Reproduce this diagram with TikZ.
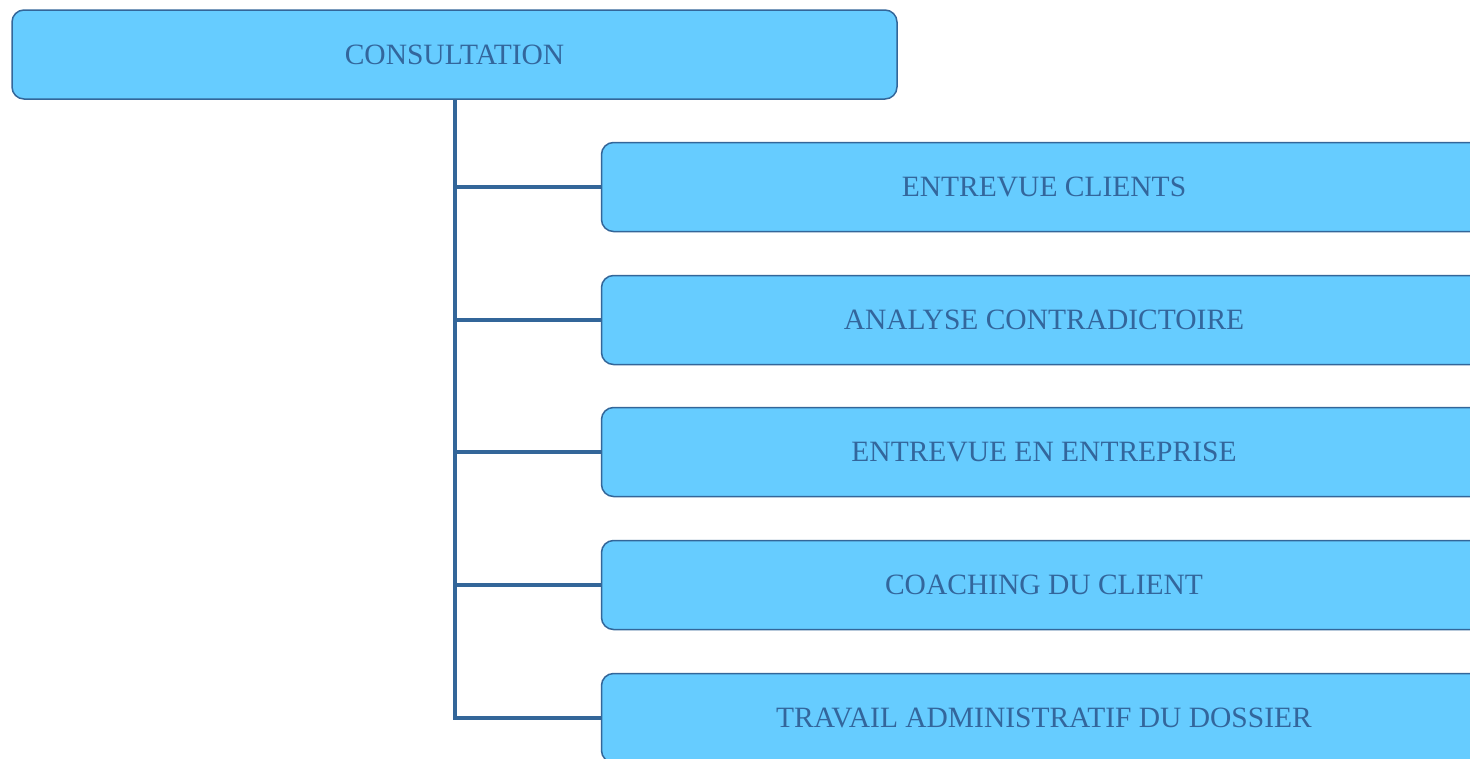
\documentclass[tikz,border=0pt]{standalone}
\usepackage{fontspec}
\setmainfont{Liberation Serif}
\usetikzlibrary{positioning}

\definecolor{boxfill}{HTML}{66CCFF}
\definecolor{boxline}{HTML}{336699}
\definecolor{boxtext}{HTML}{33669C}

\tikzset{
	task/.style={draw=boxline, fill=boxfill, line width=1.5pt, rounded corners=12pt,
		minimum width=885pt, minimum height=89pt, inner sep=0pt,
		text=boxtext, font=\fontsize{29.5}{34}\selectfont},
	branch/.style={draw=boxline, line width=4pt}
}

\begin{document}
\begin{tikzpicture}[x=1pt,y=-1pt]
	\path[use as bounding box, clip] (0,0) rectangle (1470,758);

	\node[task] (consult)	at (454.5,54.5)	{CONSULTATION};
	\node[task] (entcli)	at (1044,187)	{ENTREVUE CLIENTS};
	\node[task] (analyse)	at (1044,320)	{ANALYSE CONTRADICTOIRE};
	\node[task] (entent)	at (1044,452)	{ENTREVUE EN ENTREPRISE};
	\node[task] (coach)		at (1044,585)	{COACHING DU CLIENT};
	\node[task] (travail)	at (1044,718)	{TRAVAIL ADMINISTRATIF DU DOSSIER};

	\draw[branch]	(consult.south) |- (entcli.west);
	\draw[branch]	(consult.south) |- (analyse.west);
	\draw[branch]	(consult.south) |- (entent.west);
	\draw[branch]	(consult.south) |- (coach.west);
	\draw[branch]	(consult.south) |- (travail.west);
\end{tikzpicture}
\end{document}
